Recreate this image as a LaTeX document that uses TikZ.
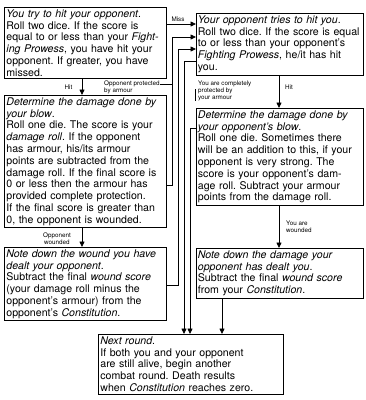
\documentclass[tikz,border=0pt]{standalone}
\usepackage{fontspec}
\setmainfont{TeX Gyre Heros}
\usetikzlibrary{arrows.meta}
\frenchspacing
\begin{document}
\begin{tikzpicture}[x=1pt,y=-1pt,
  box/.style={draw,line width=0.8pt,anchor=north west,align=left,inner xsep=2pt,inner ysep=2.2pt,
    font=\fontsize{10.6}{11.8}\selectfont\frenchspacing},
  lbox/.style={box,text width=158pt},
  rbox/.style={box,text width=164pt,inner xsep=1.5pt},
  lab/.style={font=\fontsize{6.3}{7.2}\selectfont,inner sep=0pt},
  arr/.style={line width=0.8pt,-{Triangle[length=5.5pt,width=5pt]}},
  con/.style={line width=0.6pt}]
\useasboundingbox (0,0) rectangle (366,400);

\node[lbox] (A) at (4,7) {\textit{You try to hit your opponent}.\\
Roll two dice. If the score is\\
\mbox{equal to or less than your \textit{Fight-}}\\
\textit{ing Prowess}, you have hit your\\
opponent. If greater, you have\\
missed.};

\node[lbox] (B) at (4,95) {\textit{Determine the damage done by}\\
\textit{your blow}.\\
Roll one die. The score is your\\
\textit{damage roll}. If the opponent\\
has armour, his/its armour\\
points are subtracted from the\\
\mbox{damage roll. If the final score is}\\
0 or less then the armour has\\
provided complete protection.\\
\mbox{If the final score is greater than}\\
0, the opponent is wounded.};

\node[lbox] (C) at (4,247) {\textit{Note down the wound you have}\\
\textit{dealt your opponent}.\\
\mbox{Subtract the final \textit{wound score}}\\
(your damage roll minus the\\
opponent's armour) from the\\
opponent's \textit{Constitution}.};

\node[rbox] (D) at (196,13) {\textit{Your opponent tries to hit you}.\\
\mbox{Roll two dice. If the score is equal}\\
to or less than your opponent's\\
\textit{Fighting Prowess}, he/it has hit\\
you.};

\node[rbox] (E) at (196,108) {\textit{Determine the damage done by}\\
\textit{your opponent's blow}.\\
Roll one die. Sometimes there\\
\mbox{will be an addition to this, if your}\\
opponent is very strong. The\\
score is your opponent's dam-\\
\mbox{age roll. Subtract your armour}\\
points from the damage roll.};

\node[rbox] (F) at (196,248) {\textit{Note down the damage your}\\
\textit{opponent has dealt you}.\\
\mbox{Subtract the final \textit{wound score}}\\
from your \textit{Constitution}.};

\node[box,text width=181pt] (G) at (98,334) {\textit{Next round}.\\
If both you and your opponent\\
are still alive, begin another\\
combat round. Death results\\
\mbox{when \textit{Constitution} reaches zero.}};

% vertical connector tracks
\coordinate (v1) at (172,0);
\coordinate (v2) at (178,0);
\coordinate (v3) at (184,0);
\coordinate (v4) at (190,0);

% labels
\node[lab] (lmiss) at (178,19.5) {Miss};
\node[lab] (lhit1) at (68.5,87) {Hit};
\node[lab,anchor=north west,align=left] (lprot) at (104,80.5) {Opponent protected\\by armour};
\node[lab,align=center] (lwound) at (57,238.5) {Opponent\\wounded};
\node[lab] (lhit2) at (289,87) {Hit};
\node[lab,anchor=north west,align=left] (lcomp) at (198,80.5) {You are completely\\protected by\\your armour};
\node[lab,anchor=north west,align=left] (lyou) at (286,220.5) {You are\\wounded};

% connectors
\draw[arr] (A.east |- 0,24) -- (D.west |- 0,24);
\draw[arr] (A.south -| 82,0) -- (B.north -| 82,0);
\draw[arr] (B.east |- 0,185) -- (v1 |- 0,185) -- (v1 |- 0,37) -- (D.west |- 0,37);
\draw[con] (lprot.east |- 0,84) -- (v1 |- 0,84);
\draw[arr] (B.south -| 82,0) -- (C.north -| 82,0);
\draw[arr] (C.east |- 0,285) -- (v2 |- 0,285) -- (v2 |- 0,49) -- (D.west |- 0,49);
\draw[arr] (D.west |- 0,61) -- (v3 |- 0,61) -- (v3 |- G.north);
\draw[arr] (D.south -| 279,0) -- (E.north -| 279,0);
\draw[arr] (E.west |- 0,128) -- (v4 |- 0,128) -- (v4 |- G.north);
\draw[con] (lcomp.west |- 0,89) ++(-2.5,0) -- ++(0,12);
\draw[arr] (E.south -| 279,0) -- (F.north -| 279,0);
\draw[arr] (F.south -| 222,0) -- (G.north -| 222,0);
\end{tikzpicture}
\end{document}
